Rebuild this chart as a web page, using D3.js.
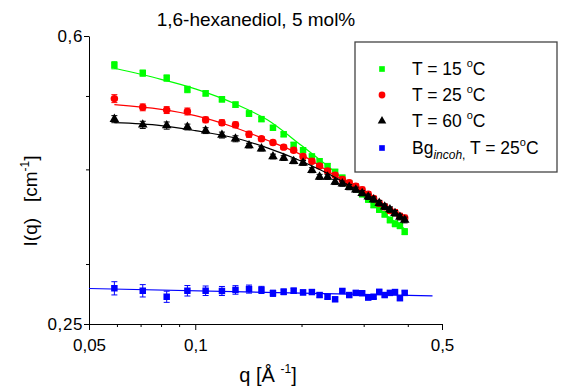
<!DOCTYPE html>
<html>
<head>
<meta charset="utf-8">
<script src="https://cdn.jsdelivr.net/npm/d3@7"></script>
<style>
  body { margin: 0; background: #fff; }
  svg { display: block; font-family: Arial, "Liberation Sans", sans-serif; }
</style>
</head>
<body>
<svg id="board" width="567" height="387"></svg>
<script>
// scattering vector q (1/A)
var q = [0.059,0.071,0.083,0.095,0.107,0.119,0.130,0.142,0.154,0.166,0.178,0.190,0.202,0.214,0.225,
         0.237,0.249,0.261,0.273,0.285,0.297,0.309,0.320,0.332,0.344,0.356,0.368,0.380,0.392];

// I(q) for each temperature
var green = [0.549,0.536,0.528,0.510,0.504,0.495,0.487,0.474,0.466,0.454,0.445,0.431,0.424,0.416,0.410,
             0.404,0.397,0.390,0.383,0.377,0.371,0.365,0.359,0.354,0.349,0.343,0.339,0.337,0.331];
var red = [0.496,0.483,0.479,0.477,0.465,0.461,0.458,0.445,0.439,0.434,0.428,0.424,0.416,0.410,0.404,
           0.398,0.393,0.388,0.384,0.380,0.376,0.371,0.366,0.361,0.357,0.353,0.351,0.347,0.345];
var black = [0.466,0.458,0.457,0.455,0.450,0.444,0.439,0.430,0.426,0.416,0.414,0.410,0.408,0.399,0.391,
             0.391,0.385,0.383,0.379,0.376,0.372,0.368,0.365,0.361,0.357,0.354,0.350,0.346,0.343];
var blue = [0.2787,0.2766,0.2716,0.2766,0.2766,0.2764,0.2773,0.2780,0.2773,0.2745,0.2757,0.2766,0.2752,0.2755,0.2730,
            0.2716,0.2695,0.2764,0.2730,0.2748,0.2745,0.2709,0.2716,0.2757,0.2730,0.2748,0.2755,0.2704,0.2748];

// error bars
var greenErr = [0.006,0.005,0.005,0.005,0.004,0.004,0.004,0.004,0.003,0.003,0.003,0.003,0.003,0.003,0.003,
                0.003,0.003,0.003,0.003,0.003,0.003,0.003,0.003,0.003,0.003,0.003,0.003,0.003,0.003];
var redErr = [0.006,0.005,0.005,0.005,0.004,0.004,0.004,0.004,0.003,0.003,0.003,0.003,0.003,0.003,0.003,
              0.003,0.003,0.003,0.003,0.003,0.003,0.003,0.003,0.003,0.003,0.003,0.003,0.003,0.003];
var blackErr = [0.005,0.005,0.005,0.004,0.004,0.004,0.004,0.003,0.003,0.003,0.003,0.003,0.003,0.003,0.003,
                0.003,0.003,0.003,0.003,0.003,0.003,0.003,0.003,0.003,0.003,0.003,0.003,0.003,0.003];
var blueErr = [0.0056,0.0052,0.0046,0.0044,0.0040,0.0038,0.0036,0.0034,0.0030,0.0026,0.0024,0.0022,0.0020,0.0020,0.0018,
               0.0018,0.0016,0.0016,0.0016,0.0016,0.0016,0.0016,0.0016,0.0016,0.0016,0.0016,0.0016,0.0016,0.0016];

// fitted curves
var fitQ = [0.059,0.08,0.10,0.13,0.16,0.20,0.25,0.30,0.35,0.395];
var greenFit = [0.544,0.526,0.511,0.488,0.465,0.430,0.396,0.368,0.347,0.333];
var redFit = [0.487,0.480,0.471,0.454,0.437,0.418,0.392,0.372,0.356,0.344];
var blackFit = [0.461,0.457,0.450,0.440,0.427,0.410,0.390,0.371,0.356,0.343];
var blueFitQ = [0.05,0.47];
var blueFit = [0.2785,0.2723];

var xTicks = [0.05,0.1,0.5];
var xMinor = [0.06,0.07,0.08,0.09,0.2,0.3,0.4];
var yTicks = [0.25,0.6];
var yMinor = [0.3,0.4,0.5];

var legendLabels = ["T = 15 ", "T = 25 ", "T = 60 ", "Bg"];

var board = d3.select("#board");

var x = d3.scaleLog().domain([0.05,0.5]).range([89,442]);
var y = d3.scaleLog().domain([0.25,0.6]).range([324,36]);

function comma(d) { return String(d).replace(".", ","); }

// axes
var xAxis = board.append("g").attr("transform","translate(0,324)")
      .call(d3.axisBottom(x).tickValues(xTicks).tickFormat(comma).tickSize(6).tickSizeOuter(0));
board.append("g").attr("transform","translate(0,324)")
      .call(d3.axisBottom(x).tickValues(xMinor).tickFormat("").tickSize(3).tickSizeOuter(0))
      .select(".domain").remove();
var yAxis = board.append("g").attr("transform","translate(89,0)")
      .call(d3.axisLeft(y).tickValues(yTicks).tickFormat(comma).tickSize(5).tickSizeOuter(0));
board.append("g").attr("transform","translate(89,0)")
      .call(d3.axisLeft(y).tickValues(yMinor).tickFormat("").tickSize(3).tickSizeOuter(0))
      .select(".domain").remove();

xAxis.selectAll("text").attr("font-size",17).attr("font-family","Arial, Liberation Sans").attr("dy","1.05em").attr("fill","#000");
yAxis.selectAll("text").attr("font-size",17).attr("font-family","Arial, Liberation Sans").attr("x",-6).attr("fill","#000")
      .attr("letter-spacing",0.6);
board.selectAll(".domain").attr("stroke","#000");

// fit lines
var line = d3.line().x(function(d){ return x(d[0]); }).y(function(d){ return y(d[1]); }).curve(d3.curveMonotoneX);

function drawFit(qs, vals, color)
{
  board.append("path")
        .attr("d", line(d3.zip(qs, vals)))
        .attr("fill","none")
        .attr("stroke",color)
        .attr("stroke-width",1.2);
}

function drawErr(vals, errs, color)
{
  var g = board.append("g").attr("stroke",color).attr("stroke-width",1);
  for(var i=0;i<q.length;i++)
  {
    var cx = x(q[i]), y1 = y(vals[i]+errs[i]), y2 = y(vals[i]-errs[i]);
    g.append("line").attr("x1",cx).attr("x2",cx).attr("y1",y1).attr("y2",y2);
    g.append("line").attr("x1",cx-3).attr("x2",cx+3).attr("y1",y1).attr("y2",y1);
    g.append("line").attr("x1",cx-3).attr("x2",cx+3).attr("y1",y2).attr("y2",y2);
  }
}

function drawPoints(vals, color, shape)
{
  var sym = d3.symbol().type(shape).size(shape === d3.symbolCircle ? 44 : (shape === d3.symbolTriangle ? 40 : 42));
  board.append("g").selectAll("path")
        .data(vals)
        .enter().append("path")
        .attr("transform", function(d,i){ return "translate(" + x(q[i]) + "," + y(d) + ")"; })
        .attr("d", sym())
        .attr("fill", color);
}

drawFit(blueFitQ, blueFit, "#0000ff");
drawErr(blue, blueErr, "#0000ff");
drawPoints(blue, "#0000ff", d3.symbolSquare);

drawFit(fitQ, greenFit, "#00ff00");
drawErr(green, greenErr, "#00ff00");
drawPoints(green, "#00ff00", d3.symbolSquare);

drawFit(fitQ, redFit, "#ff0000");
drawErr(red, redErr, "#ff0000");
drawPoints(red, "#ff0000", d3.symbolCircle);

drawFit(fitQ, blackFit, "#000000");
drawErr(black, blackErr, "#000000");
drawPoints(black, "#000000", d3.symbolTriangle);

// title
board.append("text")
      .attr("x",256).attr("y",26)
      .attr("text-anchor","middle")
      .attr("font-size",19)
      .text("1,6-hexanediol, 5 mol%");

// axis titles
var xt = board.append("text")
      .attr("x",268).attr("y",382)
      .attr("text-anchor","middle")
      .attr("font-size",20);
xt.append("tspan").text("q [Å\u00a0");
xt.append("tspan").attr("font-size",12).attr("dy",-9).text("-1");
xt.append("tspan").attr("dy",9).text("]");

var yt = board.append("text")
      .attr("transform","translate(37,201) rotate(-90)")
      .attr("text-anchor","middle")
      .attr("font-size",19);
yt.append("tspan").text("I(q)\u00a0\u00a0\u00a0[cm");
yt.append("tspan").attr("font-size",12).attr("dy",-8).text("-1");
yt.append("tspan").attr("dy",8).text("]");

// legend
board.append("rect")
      .attr("x",355).attr("y",42)
      .attr("width",202).attr("height",130)
      .attr("fill","#fff")
      .attr("stroke","#444")
      .attr("stroke-width",1.3);

var legendColors = ["#00ff00","#ff0000","#000000","#0000ff"];
var legendShapes = [d3.symbolSquare, d3.symbolCircle, d3.symbolTriangle, d3.symbolSquare];
var legendY = [69, 95, 121, 148];

for(var i=0;i<4;i++)
{
  board.append("path")
        .attr("transform","translate(382," + legendY[i] + ")")
        .attr("d", d3.symbol().type(legendShapes[i]).size(legendShapes[i] === d3.symbolCircle ? 36 : 32)())
        .attr("fill", legendColors[i]);
  var t = board.append("text")
        .attr("x",412).attr("y",legendY[i] + 6)
        .attr("font-size",17.5);
  if(i < 3)
  {
    t.append("tspan").text(legendLabels[i].replace(/ $/, "\u00a0"));
    t.append("tspan").attr("font-size",11).attr("dy",-8).text("o");
    t.append("tspan").attr("dy",8).text("C");
  }
  else
  {
    t.append("tspan").text(legendLabels[i]);
    t.append("tspan").attr("font-size",12).attr("font-style","italic").attr("dy",5).text("incoh");
    t.append("tspan").attr("font-size",12).attr("dy",0).text(",");
    t.append("tspan").attr("dy",-5).text(" T = 25");
    t.append("tspan").attr("font-size",11).attr("dy",-8).text("o");
    t.append("tspan").attr("dy",8).text("C");
  }
}
</script>
</body>
</html>
